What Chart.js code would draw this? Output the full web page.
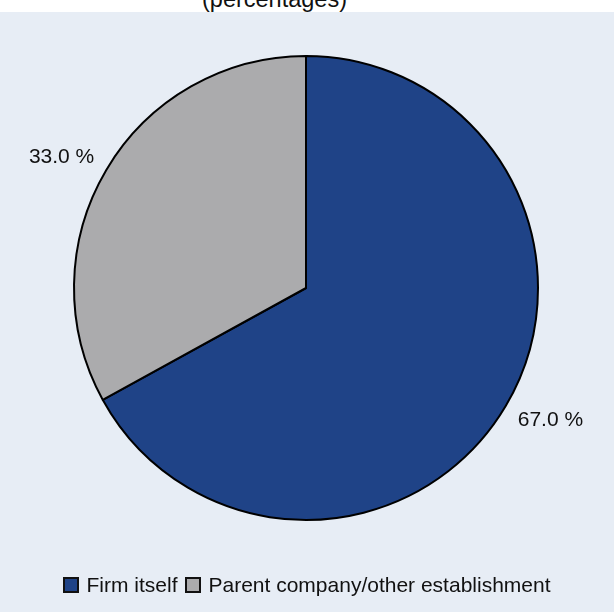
<!DOCTYPE html>
<html>
<head>
<meta charset="utf-8">
<script src="https://cdn.jsdelivr.net/npm/chart.js@4.4.1/dist/chart.umd.min.js"></script>
<style>
  html, body { margin: 0; padding: 0; }
  body { width: 614px; height: 612px; background: #e7edf5; position: relative; overflow: hidden;
         font-family: "Liberation Sans", Arial, sans-serif; }
  #band { position: absolute; left: 0; top: 0; width: 614px; height: 12px; background: #fff; overflow: hidden; }
  #band span { position: absolute; left: 202px; top: -12px; font-size: 23.5px; line-height: 1; color: #111; white-space: nowrap; }
  #wrap { position: absolute; left: 0; top: 0; width: 614px; height: 612px; }
  #legend { position: absolute; left: 0; width: 614px; top: 574px; display: flex; justify-content: center;
            font-size: 21px; color: #111; line-height: 22px; }
  #legend .item { display: flex; align-items: center; margin: 0 4px; }
  #legend .box { width: 12px; height: 12px; border: 2px solid #111; margin-right: 7px; }
</style>
</head>
<body>
<div id="band"><span>(percentages)</span></div>
<div id="wrap"><canvas id="pie" width="614" height="612"></canvas></div>
<div id="legend"></div>
<script>
var labels = ['Firm itself', 'Parent company/other establishment'];
var shares = [67.0, 33.0];
var sliceColors = ['#1f4387', '#ababad'];

// percentage labels placed just outside each slice, at its middle angle
var outerLabels = {
  id: 'outerLabels',
  afterDatasetsDraw: function (chart) {
    var ctx = chart.ctx;
    var meta = chart.getDatasetMeta(0);
    ctx.save();
    ctx.font = '21px "Liberation Sans", Arial, sans-serif';
    ctx.fillStyle = '#111';
    meta.data.forEach(function (arc, i) {
      var mid = (arc.startAngle + arc.endAngle) / 2;
      var r = arc.outerRadius + 14;
      var x = arc.x + Math.cos(mid) * r;
      var y = arc.y + Math.sin(mid) * r;
      var txt = shares[i].toFixed(1) + ' %';
      ctx.textAlign = Math.cos(mid) < 0 ? 'right' : 'left';
      ctx.textBaseline = 'alphabetic';
      if (Math.sin(mid) > 0) y += 13;
      ctx.fillText(txt, x, y);
    });
    ctx.restore();
  }
};

new Chart(document.getElementById('pie'), {
  type: 'pie',
  data: {
    labels: labels,
    datasets: [{
      data: shares,
      backgroundColor: sliceColors,
      borderColor: '#000',
      borderWidth: 2
    }]
  },
  options: {
    responsive: false,
    animation: false,
    layout: { padding: { left: 73, right: 75, top: 55, bottom: 91 } },
    plugins: {
      legend: { display: false },
      tooltip: { enabled: false }
    }
  },
  plugins: [outerLabels]
});

var legend = document.getElementById('legend');
labels.forEach(function (name, i) {
  var item = document.createElement('div');
  item.className = 'item';
  var box = document.createElement('div');
  box.className = 'box';
  box.style.background = sliceColors[i];
  var txt = document.createElement('span');
  txt.textContent = name;
  item.appendChild(box);
  item.appendChild(txt);
  legend.appendChild(item);
});
</script>
</body>
</html>
